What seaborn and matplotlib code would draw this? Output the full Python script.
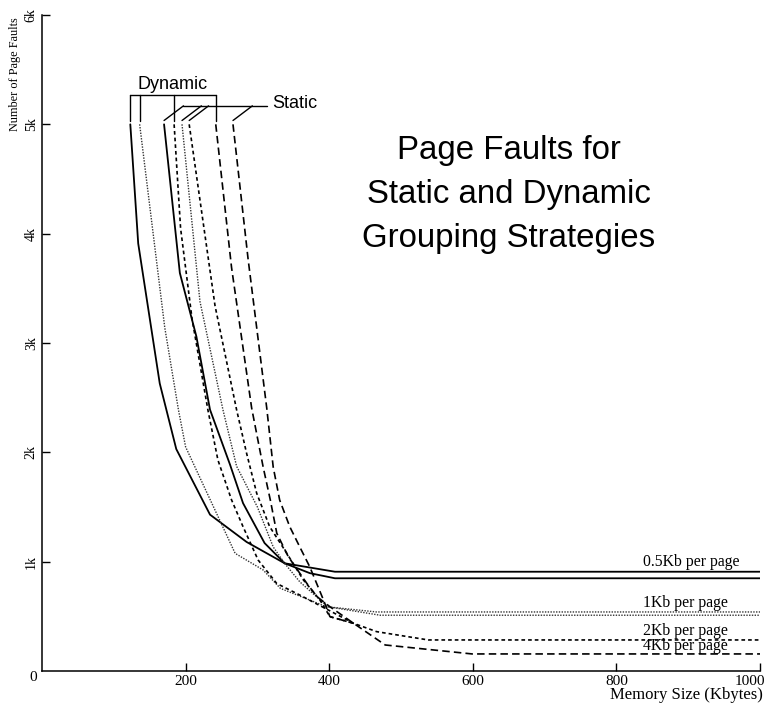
import matplotlib
matplotlib.use("Agg")
import matplotlib.pyplot as plt
import matplotlib.transforms as mtrans
import seaborn as sns
import pandas as pd

# ---------------- data ----------------
dyn_05_x = [123, 134, 164, 187, 234, 285, 338, 408, 1000]
dyn_05_y = [5000, 3910, 2630, 2030, 1430, 1180, 985, 908, 908]

sta_05_x = [170, 192, 215, 234, 262, 280, 310, 338, 373, 408, 1000]
sta_05_y = [5000, 3640, 3060, 2390, 1885, 1535, 1170, 985, 895, 848, 848]

dyn_1_x = [136, 171, 190, 200, 269, 308, 332, 396, 466, 1000]
dyn_1_y = [5000, 3140, 2390, 2050, 1076, 924, 756, 588, 540, 540]

sta_1_x = [195, 220, 252, 271, 300, 322, 338, 359, 398, 471, 1000]
sta_1_y = [5000, 3380, 2390, 1873, 1500, 1135, 984, 816, 588, 510, 510]

dyn_2_x = [184, 193, 209, 231, 245, 264, 280, 301, 327, 359, 434, 466, 538, 1000]
dyn_2_y = [5000, 4050, 3220, 2390, 1930, 1565, 1320, 1015, 800, 695, 436, 360, 284, 284]

sta_2_x = [205, 241, 271, 285, 299, 317, 338, 364, 387, 401, 434]
sta_2_y = [5000, 3340, 2390, 1990, 1626, 1321, 1107, 833, 650, 497, 436]

dyn_4_x = [242, 264, 292, 308, 318, 327, 343, 369, 383, 401, 434, 478, 599, 1000]
dyn_4_y = [5000, 3690, 2405, 1866, 1564, 1260, 1046, 800, 680, 588, 436, 238, 156, 156]

sta_4_x = [266, 287, 313, 322, 331, 345, 359, 373, 392, 401, 434]
sta_4_y = [5000, 3770, 2406, 1866, 1564, 1321, 1135, 952, 650, 497, 436]

page_labels = ["0.5Kb per page", "1Kb per page", "2Kb per page", "4Kb per page"]
label_x = [837, 837, 837, 837]
label_y = [1000, 622, 366, 229]

x_ticks = [200, 400, 600, 800, 1000]
x_tick_labels = ["200", "400", "600", "800", "1000"]
y_ticks = [1000, 2000, 3000, 4000, 5000, 6000]
y_tick_labels = ["1k", "2k", "3k", "4k", "5k", "6k"]

title_lines = ["Page Faults for", "Static and Dynamic", "Grouping Strategies"]

# ---------------- styles ----------------
styles = {
    "0.5": dict(linestyle="-", lw=1.3, color="black"),
    "1": dict(linestyle=(0, (1, 1)), lw=1.0, color="#333333"),
    "2": dict(linestyle=(0, (2.2, 1.8)), lw=1.2, color="black"),
    "4": dict(linestyle=(0, (4.5, 2.5)), lw=1.2, color="black"),
}

series = [
    ("dyn", "0.5", dyn_05_x, dyn_05_y),
    ("sta", "0.5", sta_05_x, sta_05_y),
    ("dyn", "1", dyn_1_x, dyn_1_y),
    ("sta", "1", sta_1_x, sta_1_y),
    ("dyn", "2", dyn_2_x, dyn_2_y),
    ("sta", "2", sta_2_x, sta_2_y),
    ("dyn", "4", dyn_4_x, dyn_4_y),
    ("sta", "4", sta_4_x, sta_4_y),
]

sns.set_style("ticks")
plt.rcParams["font.family"] = ["Liberation Serif", "DejaVu Serif"]
plt.rcParams["text.color"] = "black"
plt.rcParams["xtick.color"] = "black"
plt.rcParams["ytick.color"] = "black"
plt.rcParams["xtick.labelcolor"] = "black"
plt.rcParams["ytick.labelcolor"] = "black"
SANS = ["Liberation Sans", "DejaVu Sans"]

fig = plt.figure(figsize=(7.67, 7.03), dpi=100)
ax = fig.add_axes([42 / 767, 1 - 671 / 703, 718 / 767, 656 / 703])

for kind, page, xs, ys in series:
    df = pd.DataFrame({"mem": xs, "faults": ys})
    sns.lineplot(data=df, x="mem", y="faults", ax=ax, sort=False,
                 estimator=None, **styles[page])

ax.set_xlim(0, 1000)
ax.set_ylim(0, 6000)
ax.set_xlabel("")
ax.set_ylabel("")

for s in ["top", "right"]:
    ax.spines[s].set_visible(False)
for s in ["left", "bottom"]:
    ax.spines[s].set_linewidth(1.1)
    ax.spines[s].set_color("black")

ax.set_xticks(x_ticks, labels=x_tick_labels)
ax.set_yticks(y_ticks, labels=y_tick_labels)
ax.tick_params(direction="in", length=6, width=1.0, color="black", labelcolor="black")
ax.tick_params(axis="x", labelsize=11, pad=3)
ax.tick_params(axis="y", labelsize=10, pad=3, labelrotation=90)
for lab in ax.get_yticklabels():
    lab.set_verticalalignment("center")
xl = ax.get_xticklabels()
xl[-1].set_horizontalalignment("right")
xl[-1].set_transform(xl[-1].get_transform()
                     + mtrans.ScaledTranslation(5 / 100, 0, fig.dpi_scale_trans))

# corner zero, axis titles
ax.text(-12.5, -55, "0", fontsize=11, ha="center", va="center", clip_on=False)
ax.text(-37.6, 5462, "Number of Page Faults", rotation=90, fontsize=8.8,
        ha="center", va="center", clip_on=False)
ax.text(1004, -222, "Memory Size (Kbytes)", fontsize=12, ha="right",
        va="center", clip_on=False)

# page-size labels
for t, lx, ly in zip(page_labels, label_x, label_y):
    ax.text(lx, ly, t, fontsize=11.3, ha="left", va="center")

# title
for t, ty in zip(title_lines, [4757, 4355, 3952]):
    ax.text(650, ty, t, fontsize=23.8, ha="center", va="center",
            family=SANS, color="black")

# Dynamic bracket
dyn_starts = [s[2][0] for s in series if s[0] == "dyn"]
top_y, low_y = 5265, 5035
ax.plot([min(dyn_starts), max(dyn_starts)], [top_y, top_y], color="black", lw=1.0)
for x0 in dyn_starts:
    ax.plot([x0, x0], [top_y, low_y], color="black", lw=1.0)
ax.text(182, 5360, "Dynamic", fontsize=13, ha="center", va="center",
        family=SANS, color="black")

# Static leaders
sta_starts = [s[2][0] for s in series if s[0] == "sta"]
lead_y = 5169
ends = []
for x0 in sta_starts:
    ax.plot([x0, x0 + 27], [low_y, lead_y], color="black", lw=1.0)
    ends.append(x0 + 27)
ax.plot([min(ends), 313], [lead_y, lead_y], color="black", lw=1.0)
ax.text(321, lead_y + 20, "Static", fontsize=13, ha="left", va="center",
        family=SANS, color="black")

fig.savefig("out.png", dpi=100)
